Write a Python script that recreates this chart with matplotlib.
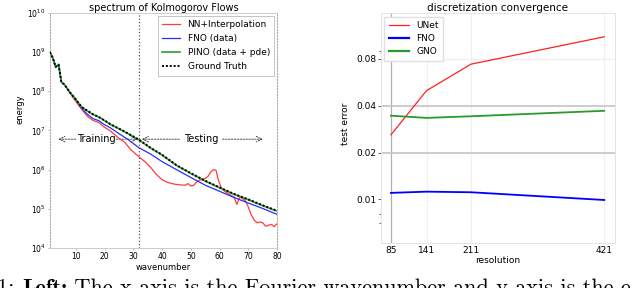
import numpy as np
import matplotlib.pyplot as plt
from matplotlib.ticker import FixedLocator, NullFormatter, NullLocator

# --- left panel: energy spectrum ---
k_gt = [1, 2, 3, 4, 5, 6, 8, 10, 12, 14, 16, 18, 20, 22, 25, 28, 32, 36, 40,
        45, 50, 55, 60, 65, 70, 75, 80]
e_gt = [1.0e9, 7.1e8, 4.2e8, 4.8e8, 1.7e8, 1.5e8, 9.3e7, 6.2e7, 4.0e7, 3.2e7,
        2.6e7, 2.2e7, 1.8e7, 1.45e7, 1.12e7, 8.5e6, 5.8e6, 3.6e6, 2.4e6,
        1.3e6, 8.1e5, 5.2e5, 3.5e5, 2.4e5, 1.74e5, 1.23e5, 8.9e4]
e_pino = [1.0e9, 7.1e8, 4.2e8, 4.8e8, 1.7e8, 1.5e8, 9.3e7, 6.2e7, 4.0e7, 3.15e7,
          2.55e7, 2.2e7, 1.78e7, 1.43e7, 1.1e7, 8.4e6, 5.7e6, 3.55e6, 2.35e6,
          1.28e6, 8.0e5, 5.1e5, 3.45e5, 2.35e5, 1.7e5, 1.2e5, 8.7e4]
e_fno = [1.0e9, 7.1e8, 4.2e8, 4.8e8, 1.7e8, 1.5e8, 9.3e7, 6.2e7, 3.7e7, 2.6e7,
         2.0e7, 1.78e7, 1.4e7, 1.17e7, 8.3e6, 6.0e6, 3.6e6, 2.5e6, 1.6e6,
         1.0e6, 6.3e5, 4.0e5, 2.8e5, 1.95e5, 1.4e5, 1.02e5, 7.2e4]
k_nn = [1, 2, 3, 4, 5, 6, 8, 10, 12, 14, 16, 18, 20, 22, 25, 27, 29, 32, 34,
        36, 38, 40, 42, 44, 46, 48, 49, 50, 51, 52, 53, 55, 56, 57, 58, 58.8,
        59.5, 60.5, 62, 64, 65, 66, 67, 68, 69, 70, 71, 72, 73, 74, 75, 76,
        77, 78, 79, 80]
e_nn = [1.0e9, 7.1e8, 4.2e8, 4.8e8, 1.7e8, 1.5e8, 8.9e7, 5.5e7, 3.5e7, 2.3e7,
        1.8e7, 1.6e7, 1.2e7, 9.8e6, 6.3e6, 5.0e6, 3.3e6, 2.1e6, 1.6e6,
        1.15e6, 7.6e5, 5.5e5, 4.7e5, 4.3e5, 4.1e5, 4.0e5, 4.4e5, 3.8e5, 4.0e5,
        4.8e5, 5.4e5, 5.9e5, 6.8e5, 8.9e5, 1.0e6, 9.5e5,
        5.6e5, 3.5e5, 2.7e5, 2.2e5, 2.0e5, 1.3e5, 2.0e5, 1.8e5, 1.6e5,
        1.1e5, 7.0e4, 5.2e4, 4.4e4, 4.6e4, 4.4e4, 3.6e4,
        3.8e4, 4.0e4, 3.5e4, 4.2e4]

# --- right panel: test error vs resolution ---
res = [85, 141, 211, 421]
unet = [0.026, 0.050, 0.074, 0.111]
fno = [0.0110, 0.0112, 0.0111, 0.0099]
gno = [0.0345, 0.0334, 0.0342, 0.0371]

fig = plt.figure(figsize=(6.4, 2.88), dpi=100)

# ---------------- left ----------------
ax1 = fig.add_axes([0.078, 0.139, 0.355, 0.816])
ax1.semilogy(k_nn, e_nn, color='#ff3b3b', lw=0.9, label='NN+Interpolation', zorder=3)
ax1.semilogy(k_gt, e_fno, color='#2b2bff', lw=0.9, label='FNO (data)', zorder=3)
ax1.semilogy(k_gt, e_pino, color='#2ca02c', lw=1.2, label='PINO (data + pde)', zorder=4)
ax1.semilogy(k_gt, e_gt, color='black', lw=1.4, ls=(0, (1, 1)), label='Ground Truth', zorder=5)
ax1.axvline(32, color='#555555', lw=0.9, ls=':', zorder=2)
ax1.set_xlim(1, 80)
ax1.set_ylim(1e4, 1e10)
ax1.set_xticks([10, 20, 30, 40, 50, 60, 70, 80])
ax1.yaxis.set_major_locator(FixedLocator([1e4, 1e5, 1e6, 1e7, 1e8, 1e9, 1e10]))
ax1.yaxis.set_minor_locator(NullLocator())
ax1.tick_params(labelsize=5.5, length=1.5, width=0.5, color='#999999', pad=1.5)
ax1.set_xlabel('wavenumber', fontsize=6, labelpad=1)
ax1.set_ylabel('energy', fontsize=6)
ax1.yaxis.set_label_coords(-0.11, 0.59)
ax1.set_title('spectrum of Kolmogorov Flows', fontsize=7, pad=1.5)
for s in ['left', 'right']:
    ax1.spines[s].set_linestyle(':')
    ax1.spines[s].set_color('#aaaaaa')
    ax1.spines[s].set_linewidth(0.8)
for s in ['top', 'bottom']:
    ax1.spines[s].set_color('#cccccc')
    ax1.spines[s].set_linewidth(0.7)

ytxt = 6.0e6
arrow = dict(arrowstyle='->', lw=0.6, ls=(0, (2, 1.5)), color='#333333', shrinkA=0, shrinkB=0)
ax1.annotate('', xy=(4, ytxt), xytext=(10, ytxt), arrowprops=arrow, zorder=1)
ax1.text(17, ytxt, 'Training', fontsize=7, ha='center', va='center', zorder=1)
ax1.annotate('', xy=(31.5, ytxt), xytext=(24, ytxt), arrowprops=arrow, zorder=1)
ax1.annotate('', xy=(33, ytxt), xytext=(46, ytxt), arrowprops=arrow, zorder=1)
ax1.text(53.5, ytxt, 'Testing', fontsize=7, ha='center', va='center', zorder=1)
ax1.annotate('', xy=(75, ytxt), xytext=(61, ytxt), arrowprops=arrow, zorder=1)

leg1 = ax1.legend(loc='upper right', fontsize=6.5, fancybox=False, framealpha=1,
                  edgecolor='#bbbbbb', handlelength=2.0, labelspacing=0.55,
                  borderaxespad=0.3, borderpad=0.5)
leg1.get_frame().set_linewidth(0.6)

# ---------------- right ----------------
ax2 = fig.add_axes([0.595, 0.156, 0.366, 0.799])
ax2.set_yscale('log', base=2)
ax2.set_xlim(69, 438)
ax2.set_ylim(0.00523, 0.158)
for v in [141, 211, 421]:
    ax2.axvline(v, color='#f0f0f0', lw=0.9, zorder=0)
ax2.axvline(85, color='#b0b0b0', lw=0.9, zorder=1)
ax2.axhline(0.08, color='#efefef', lw=0.9, zorder=0)
ax2.axhline(0.04, color='#c4c4c4', lw=1.2, zorder=1)
ax2.axhline(0.02, color='#c4c4c4', lw=1.2, zorder=1)
ax2.plot(res, unet, color='#ff2020', lw=0.9, label='UNet', zorder=3)
ax2.plot(res, fno, color='#0000ff', lw=1.3, label='FNO', zorder=3)
ax2.plot(res, gno, color='#2a9a2a', lw=1.3, label='GNO', zorder=3)
ax2.set_xticks(res)
ax2.set_xticklabels([str(r) for r in res])
ax2.yaxis.set_major_locator(FixedLocator([0.01, 0.02, 0.04, 0.08]))
ax2.set_yticklabels(['0.01', '0.02', '0.04', '0.08'])
ax2.yaxis.set_minor_locator(FixedLocator([0.007, 0.008, 0.09]))
ax2.yaxis.set_minor_formatter(NullFormatter())
ax2.tick_params(axis='y', which='major', labelsize=6.5, length=2, width=0.6, color='#444444', pad=1)
ax2.tick_params(axis='y', which='minor', length=1.2, width=0.6, color='#444444')
ax2.tick_params(axis='x', labelsize=6.5, length=0, pad=2)
ax2.set_xlabel('resolution', fontsize=6.5, labelpad=1)
ax2.set_ylabel('test error', fontsize=6.5)
ax2.yaxis.set_label_coords(-0.13, 0.52)
ax2.set_title('discretization convergence', fontsize=7.5, pad=1.5)
for s in ax2.spines.values():
    s.set_color('#e4e4e4')
    s.set_linewidth(0.7)
leg2 = ax2.legend(loc='upper left', fontsize=6.5, fancybox=False, framealpha=1,
                  edgecolor='#e0e0e0', handlelength=2.2, labelspacing=0.45,
                  borderaxespad=0.4, borderpad=0.5)
leg2.get_lines()[1].set_linewidth(1.6)
leg2.get_lines()[2].set_linewidth(1.6)

# caption fragment, cut off at the bottom of the crop as in the source figure
fs = 16
t1 = fig.text(-0.004, -0.033, '1: ', fontsize=fs, family='cmr10', va='bottom')
t2 = plt.annotate('Left:', xy=(1, 0), xycoords=t1, fontsize=fs, family='cmb10',
                  va='bottom', annotation_clip=False)
t3 = plt.annotate(' The x-axis is the Fourier wavenumber and y-axis is the e',
                  xy=(1, 0), xycoords=t2, fontsize=fs, family='cmr10', va='bottom',
                  annotation_clip=False)

fig.savefig('out.png', dpi=100)
